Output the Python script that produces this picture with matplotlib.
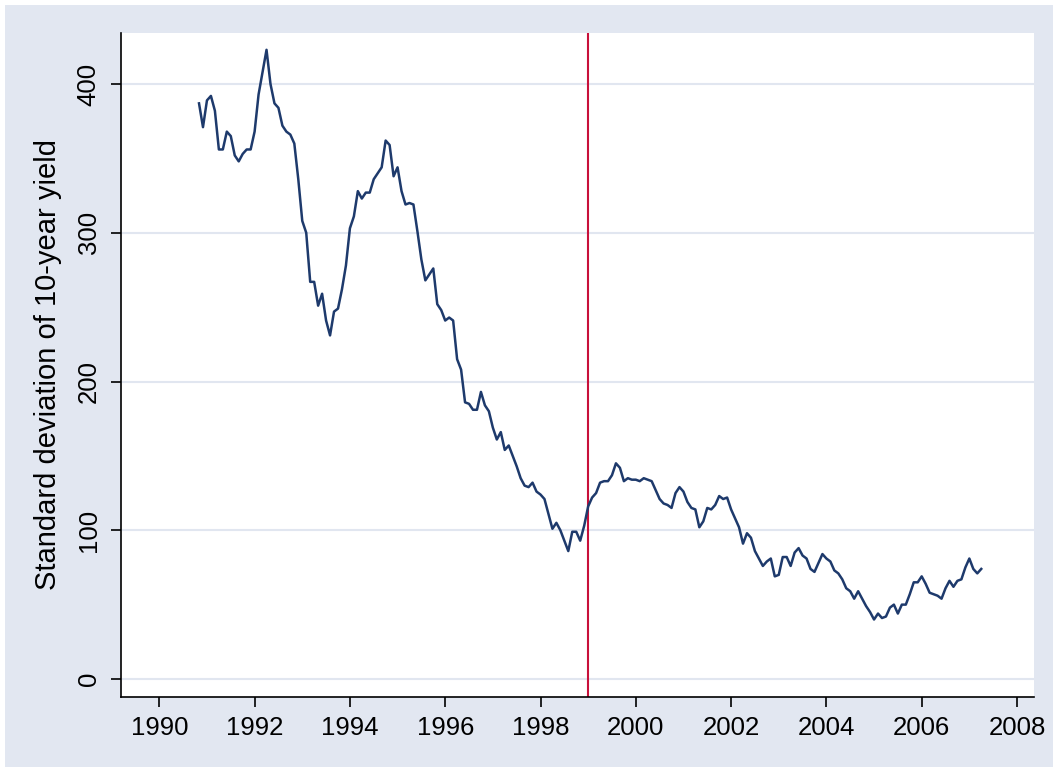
"""
Rolling standard deviation of the 10-year yield, Stata s2color look
"""

## Imports

import numpy as np
import pandas as pd
import matplotlib
matplotlib.use("Agg")
import matplotlib.pyplot as plt
from matplotlib.patches import Rectangle

## Data: monthly values, Nov 1990 .. Apr 2007

start_month = "1990-11"
sd_1990_1992 = [387, 371, 389, 392, 382, 356, 356, 368, 365, 352, 348, 353,
                356, 356, 368, 393, 408, 423, 400, 387, 384, 372, 368, 366]
sd_1992_1994 = [360, 336, 308, 300, 267, 267, 251, 259, 241, 231, 247, 249,
                262, 278, 303, 311, 328, 323, 327, 327, 336, 340, 344, 362]
sd_1994_1996 = [359, 338, 344, 328, 319, 320, 319, 301, 282, 268, 272, 276,
                252, 248, 241, 243, 241, 215, 208, 186, 185, 181, 181, 193]
sd_1996_1998 = [184, 180, 169, 161, 166, 154, 157, 150, 143, 135, 130, 129,
                132, 126, 124, 121, 111, 101, 105, 100, 93, 86, 99, 99]
sd_1998_2000 = [93, 103, 116, 122, 125, 132, 133, 133, 137, 145, 142, 133,
                135, 134, 134, 133, 135, 134, 133, 127, 121, 118, 117, 115]
sd_2000_2002 = [125, 129, 126, 119, 115, 114, 102, 106, 115, 114, 117, 123,
                121, 122, 114, 108, 102, 91, 98, 95, 86, 81, 76, 79]
sd_2002_2004 = [81, 69, 70, 82, 82, 76, 85, 88, 83, 81, 74, 72,
                78, 84, 81, 79, 73, 71, 67, 61, 59, 54, 59, 54]
sd_2004_2007 = [49, 45, 40, 44, 41, 42, 48, 50, 44, 50, 50, 57,
                65, 65, 69, 64, 58, 57, 56, 54, 61, 66, 62, 66,
                67, 75, 81, 74, 71, 74]

break_year = 1999.0
y_ticks = [0, 100, 200, 300, 400]
x_ticks = list(range(1990, 2009, 2))
y_label = "Standard deviation of 10-year yield"

## Styles

BG_BLUE = "#E2E7F1"
GRID = "#E1E6F0"
NAVY = "#1E3A6C"
RED = "#C8103A"

if __name__ == '__main__':
    sd_values = (sd_1990_1992 + sd_1992_1994 + sd_1994_1996 + sd_1996_1998 +
                 sd_1998_2000 + sd_2000_2002 + sd_2002_2004 + sd_2004_2007)
    months = pd.date_range(start_month, periods=len(sd_values), freq="MS")
    t = months.year + (months.month - 1) / 12.0

    plt.rcParams['font.family'] = ['Liberation Sans', 'DejaVu Sans']

    figure = plt.figure(figsize=(10.58, 7.74), dpi=100, facecolor="white")
    backdrop = Rectangle((5 / 1058, 7 / 774), 1048 / 1058, 762 / 774,
                         transform=figure.transFigure,
                         facecolor=BG_BLUE, edgecolor="none", zorder=-10)
    figure.add_artist(backdrop)
    axes = figure.add_axes([121 / 1058, 77 / 774, 913 / 1058, 664 / 774])
    axes.set_facecolor("white")

    for y in y_ticks:
        axes.axhline(y, color=GRID, linewidth=1.5, zorder=1)
    axes.plot(t, sd_values, color=NAVY, linewidth=1.8, zorder=3)
    axes.axvline(break_year, color=RED, linewidth=1.5, zorder=2)

    axes.set_xlim(1989.196, 2008.357)
    axes.set_ylim(-12.1, 434.3)
    axes.set_xticks(x_ticks)
    axes.set_yticks(y_ticks)
    axes.set_yticklabels([str(y) for y in y_ticks], rotation=90, va="center")

    for side in ("top", "right"):
        axes.spines[side].set_visible(False)
    for side in ("left", "bottom"):
        axes.spines[side].set_linewidth(1.2)
    axes.tick_params(axis="both", direction="out", length=7.5, width=1.2,
                     labelsize=18.5, colors="black")
    axes.tick_params(axis="y", pad=7)
    axes.tick_params(axis="x", pad=6)

    axes.set_ylabel(y_label, fontsize=21)
    axes.yaxis.set_label_coords(-0.065, 0.5)

    figure.savefig("out.png", dpi=100, facecolor="white")
